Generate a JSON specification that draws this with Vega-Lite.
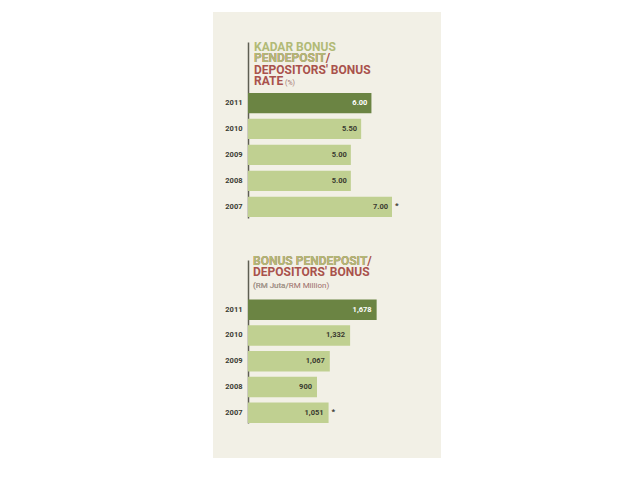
{
  "$schema": "https://vega.github.io/schema/vega-lite/v6.json",
  "autosize": {"type": "pad"},
  "padding": {"left": 213, "top": 12, "right": 0, "bottom": 0},
  "background": "white",
  "spacing": 0,
  "config": {
    "view": {"fill": "#f2f0e6", "stroke": null},
    "text": {"font": "Roboto"},
    "axis": {"labelFont": "Roboto"}
  },
  "vconcat": [
    {
      "width": 228,
      "height": 223,
      "layer": [
        {
          "layer": [
            {
              "data": {"values": [
                {"line": "1", "text": "KADAR BONUS", "lang": "Malay"},
                {"line": "2", "text": "PENDEPOSIT/", "lang": "English"},
                {"line": "2", "text": "PENDEPOSIT", "lang": "Malay"},
                {"line": "3", "text": "DEPOSITORS' BONUS", "lang": "English"},
                {"line": "4", "text": "RATE", "lang": "English"}
              ]},
              "mark": {"type": "text", "align": "left", "baseline": "alphabetic", "fontSize": 12, "fontWeight": "bold", "dx": 6},
              "encoding": {
                "x": {"datum": 0, "type": "quantitative", "scale": {"domain": [0, 7], "range": [35, 179]}, "axis": null},
                "y": {"field": "line", "type": "ordinal", "scale": {"type": "point", "domain": ["1", "2", "3", "4"], "range": [38.7, 73.3], "padding": 0}, "axis": null},
                "text": {"field": "text"},
                "color": {"condition": {"test": "datum.lang == 'Malay'", "value": "#b1ba76"}, "value": "#a9524c"}
              }
            },
            {
              "data": {"values": [{"line": "4", "text": "(%)"}]},
              "mark": {"type": "text", "align": "left", "baseline": "alphabetic", "fontSize": 7, "dx": 37, "color": "#a27470"},
              "encoding": {
                "x": {"datum": 0, "type": "quantitative"},
                "y": {"field": "line", "type": "ordinal"},
                "text": {"field": "text"}
              }
            }
          ]
        },
        {
          "data": {"values": [
            {"year": "2011", "rate": 6.00, "note": ""},
            {"year": "2010", "rate": 5.50, "note": ""},
            {"year": "2009", "rate": 5.00, "note": ""},
            {"year": "2008", "rate": 5.00, "note": ""},
            {"year": "2007", "rate": 7.00, "note": "*"}
          ]},
          "encoding": {
            "y": {
              "field": "year", "type": "ordinal", "sort": null,
              "scale": {"range": [30, 206], "paddingInner": 0.22, "paddingOuter": 1.03, "align": 0.98},
              "axis": {"orient": "left", "title": null, "offset": -35, "ticks": false, "labelPadding": 6, "labelFontSize": 7.5, "labelFontWeight": "bold", "labelColor": "#3a3a32", "domainColor": "#5e5e52", "domainWidth": 1.5, "grid": false}
            }
          },
          "layer": [
            {
              "mark": {"type": "bar"},
              "encoding": {
                "x": {"field": "rate", "type": "quantitative", "scale": {"domain": [0, 7], "range": [35, 179]}, "axis": null},
                "color": {"field": "year", "type": "nominal", "scale": {"domain": ["2011", "2010", "2009", "2008", "2007"], "range": ["#6b8443", "#c0d091", "#c0d091", "#c0d091", "#c0d091"]}, "legend": null}
              }
            },
            {
              "mark": {"type": "text", "align": "right", "baseline": "middle", "dx": -4, "fontSize": 7.5, "fontWeight": "bold"},
              "encoding": {
                "x": {"field": "rate", "type": "quantitative"},
                "text": {"field": "rate", "type": "quantitative", "format": ".2f"},
                "color": {"condition": {"test": "datum.year == '2011'", "value": "#ffffff"}, "value": "#3a3a30"}
              }
            },
            {
              "mark": {"type": "text", "align": "left", "baseline": "middle", "dx": 3, "dy": -1, "fontSize": 8, "fontWeight": "bold", "color": "#3a3a30"},
              "encoding": {
                "x": {"field": "rate", "type": "quantitative"},
                "text": {"field": "note"}
              }
            }
          ]
        }
      ],
      "resolve": {"scale": {"y": "independent"}}
    },
    {
      "width": 228,
      "height": 223,
      "layer": [
        {
          "layer": [
            {
              "data": {"values": [
                {"line": "1", "text": "BONUS PENDEPOSIT/", "lang": "English"},
                {"line": "1", "text": "BONUS PENDEPOSIT", "lang": "Malay"},
                {"line": "2", "text": "DEPOSITORS' BONUS", "lang": "English"}
              ]},
              "mark": {"type": "text", "align": "left", "baseline": "alphabetic", "fontSize": 12, "fontWeight": "bold", "dx": 5},
              "encoding": {
                "x": {"datum": 0, "type": "quantitative", "scale": {"domain": [0, 1678], "range": [35, 173]}, "axis": null},
                "y": {"field": "line", "type": "ordinal", "scale": {"type": "point", "domain": ["1", "2", "3"], "range": [30, 52.6], "padding": 0}, "axis": null},
                "text": {"field": "text"},
                "color": {"condition": {"test": "datum.lang == 'Malay'", "value": "#b1ba76"}, "value": "#a9524c"}
              }
            },
            {
              "data": {"values": [
                {"line": "3", "text": "(RM Juta/RM Million)", "lang": "English"},
                {"line": "3", "text": "(RM Juta/", "lang": "Malay"}
              ]},
              "mark": {"type": "text", "align": "left", "baseline": "alphabetic", "fontSize": 8, "dx": 5},
              "encoding": {
                "x": {"datum": 0, "type": "quantitative"},
                "y": {"field": "line", "type": "ordinal"},
                "text": {"field": "text"},
                "color": {"condition": {"test": "datum.lang == 'Malay'", "value": "#a3a395"}, "value": "#9c6e6a"}
              }
            }
          ]
        },
        {
          "data": {"values": [
            {"year": "2011", "bonus": 1678, "note": ""},
            {"year": "2010", "bonus": 1332, "note": ""},
            {"year": "2009", "bonus": 1067, "note": ""},
            {"year": "2008", "bonus": 900, "note": ""},
            {"year": "2007", "bonus": 1051, "note": "*"}
          ]},
          "encoding": {
            "y": {
              "field": "year", "type": "ordinal", "sort": null,
              "scale": {"range": [25, 188], "paddingInner": 0.2, "paddingOuter": 0.765, "align": 1},
              "axis": {"orient": "left", "title": null, "offset": -35, "ticks": false, "labelPadding": 6, "labelFontSize": 7.5, "labelFontWeight": "bold", "labelColor": "#3a3a32", "domainColor": "#5e5e52", "domainWidth": 1.5, "grid": false}
            }
          },
          "layer": [
            {
              "mark": {"type": "bar"},
              "encoding": {
                "x": {"field": "bonus", "type": "quantitative", "scale": {"domain": [0, 1678], "range": [35, 173]}, "axis": null},
                "color": {"field": "year", "type": "nominal", "scale": {"domain": ["2011", "2010", "2009", "2008", "2007"], "range": ["#6b8443", "#c0d091", "#c0d091", "#c0d091", "#c0d091"]}, "legend": null}
              }
            },
            {
              "mark": {"type": "text", "align": "right", "baseline": "middle", "dx": -5, "fontSize": 7.5, "fontWeight": "bold"},
              "encoding": {
                "x": {"field": "bonus", "type": "quantitative"},
                "text": {"field": "bonus", "type": "quantitative", "format": ","},
                "color": {"condition": {"test": "datum.year == '2011'", "value": "#ffffff"}, "value": "#3a3a30"}
              }
            },
            {
              "mark": {"type": "text", "align": "left", "baseline": "middle", "dx": 3, "dy": -1, "fontSize": 8, "fontWeight": "bold", "color": "#3a3a30"},
              "encoding": {
                "x": {"field": "bonus", "type": "quantitative"},
                "text": {"field": "note"}
              }
            }
          ]
        }
      ],
      "resolve": {"scale": {"y": "independent"}}
    }
  ]
}
